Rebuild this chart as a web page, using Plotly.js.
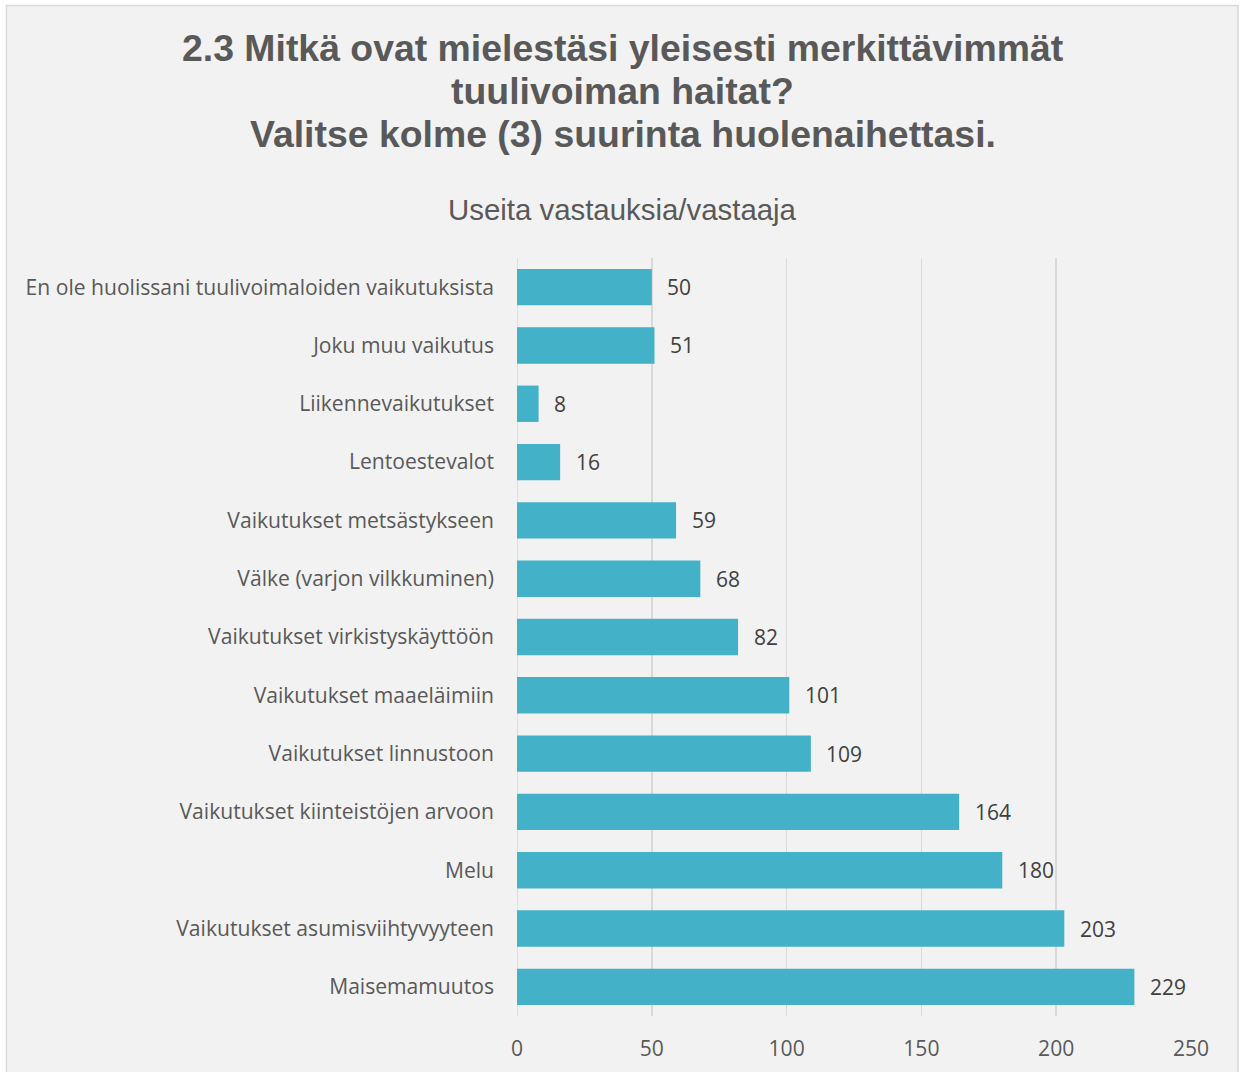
<!DOCTYPE html>
<html>
<head>
<meta charset="utf-8">
<script src="https://cdn.plot.ly/plotly-3.0.1.min.js"></script>
<style>
html,body{margin:0;padding:0;background:#ffffff;}
#chart{width:1243px;height:1072px;}
</style>
</head>
<body>
<div id="chart"></div>
<script>
const categories = [
  "En ole huolissani tuulivoimaloiden vaikutuksista",
  "Joku muu vaikutus",
  "Liikennevaikutukset",
  "Lentoestevalot",
  "Vaikutukset metsästykseen",
  "Välke (varjon vilkkuminen)",
  "Vaikutukset virkistyskäyttöön",
  "Vaikutukset maaeläimiin",
  "Vaikutukset linnustoon",
  "Vaikutukset kiinteistöjen arvoon",
  "Melu",
  "Vaikutukset asumisviihtyvyyteen",
  "Maisemamuutos"
];
const values = [50, 51, 8, 16, 59, 68, 82, 101, 109, 164, 180, 203, 229];
const xTicks = [0, 50, 100, 150, 200, 250];
const titleLines = [
  "2.3 Mitkä ovat mielestäsi yleisesti merkittävimmät",
  "tuulivoiman haitat?",
  "Valitse kolme (3) suurinta huolenaihettasi."
];
const subtitle = "Useita vastauksia/vastaaja";

const W = 1243, H = 1072;
const L = 517, R = 52, T = 258, B = 56;
const pw = W - L - R, ph = H - T - B;
const px = v => (v - L) / pw;
const py = v => (H - B - v) / ph;

const labelFont = {family: "'Open Sans', 'Noto Sans', sans-serif", size: 21.1, color: "#595959"};

const annotations = values.map((v, i) => ({
  x: v, y: categories[i], xref: "x", yref: "y",
  text: String(v), showarrow: false, xanchor: "left", yanchor: "middle",
  xshift: 13.5,
  font: {family: "'Open Sans', 'Noto Sans', sans-serif", size: 21, color: "#404040"}
}));
const titleY = [48, 91, 134];
titleLines.forEach((t, i) => annotations.push({
  xref: "paper", yref: "paper", x: px(622.5), y: py(titleY[i]),
  xanchor: "center", yanchor: "middle", showarrow: false,
  text: "<b>" + t + "</b>",
  font: {family: "'Liberation Sans', Arial, sans-serif", size: 37.4, color: "#595959"}
}));
annotations.push({
  xref: "paper", yref: "paper", x: px(622.5), y: py(209),
  xanchor: "center", yanchor: "middle", showarrow: false,
  text: subtitle,
  font: {family: "'Liberation Sans', Arial, sans-serif", size: 29.4, color: "#595959"}
});

const data = [{
  type: "bar", orientation: "h",
  x: values, y: categories,
  marker: {color: "#43b1c7", line: {width: 0}},
  hoverinfo: "x+y"
}];

const layout = {
  width: W, height: H,
  margin: {l: L, r: R, t: T, b: B, pad: 0},
  paper_bgcolor: "#ffffff",
  plot_bgcolor: "rgba(0,0,0,0)",
  showlegend: false,
  bargap: 0.376,
  xaxis: {
    range: [0, 250], tickvals: xTicks, ticktext: xTicks.map(String),
    showgrid: true, gridcolor: "#d9d9d9", gridwidth: 1.5,
    zeroline: false, showline: false, ticks: "",
    ticklabelstandoff: 18,
    tickfont: labelFont, fixedrange: true
  },
  yaxis: {
    type: "category", autorange: "reversed",
    showgrid: false, zeroline: false, showline: false, ticks: "",
    ticklabelstandoff: 22,
    tickfont: labelFont, fixedrange: true
  },
  shapes: [{
    type: "rect", xref: "paper", yref: "paper", layer: "below",
    x0: px(6.5), x1: px(1238), y0: py(5.5), y1: py(1090),
    fillcolor: "#f2f2f2", line: {color: "#d9d9d9", width: 1.5}
  }, {
    type: "line", xref: "x", yref: "paper", layer: "below",
    x0: 0, x1: 0, y0: 0, y1: 1, line: {color: "#d9d9d9", width: 1.5}
  }],
  annotations: annotations
};

Plotly.newPlot("chart", data, layout, {displayModeBar: false, staticPlot: true});
</script>
</body>
</html>
